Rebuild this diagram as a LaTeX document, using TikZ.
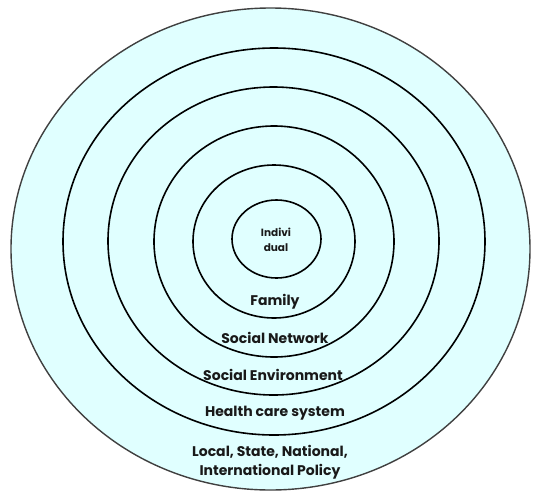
\documentclass[tikz,border=0pt]{standalone}
\usepackage{fontspec}
\setmainfont{Poppins}
\begin{document}
\begin{tikzpicture}[x=1pt,y=-1pt,
  ring/.style={draw=black,line width=1.6pt,fill=ringfill},
  outer/.style={draw=black!75,line width=1.4pt,fill=ringfill},
  lbl/.style={font=\fontsize{14}{15}\selectfont\bfseries,text=black!90,align=center,inner sep=0pt}]
\definecolor{ringfill}{HTML}{E0FFFF}
\useasboundingbox (0,0) rectangle (547,504);
\draw[outer] (270.5,249) ellipse [x radius=259.5, y radius=241];
\draw[ring] (274,241.5) ellipse [x radius=211, y radius=193.5];
\draw[ring] (273.5,241) ellipse [x radius=165.5, y radius=154];
\draw[ring] (274,241.5) ellipse [x radius=120, y radius=115.5];
\draw[ring] (274,241.5) ellipse [x radius=81, y radius=76.5];
\draw[ring] (276.5,239) ellipse [x radius=44.5, y radius=39];
\node[lbl,font=\fontsize{10.5}{14.5}\selectfont\bfseries] (ind) at (276,240) {Indivi\\dual};
\node[lbl] (fam) at (275,302) {Family};
\node[lbl] (sn) at (275,338) {Social Network};
\node[lbl] (se) at (273,375) {Social Environment};
\node[lbl] (hc) at (275,413) {Health care system};
\node[lbl,font=\fontsize{14}{18.5}\selectfont\bfseries] (pol) at (270,462) {Local, State, National,\\International Policy};
\end{tikzpicture}
\end{document}
